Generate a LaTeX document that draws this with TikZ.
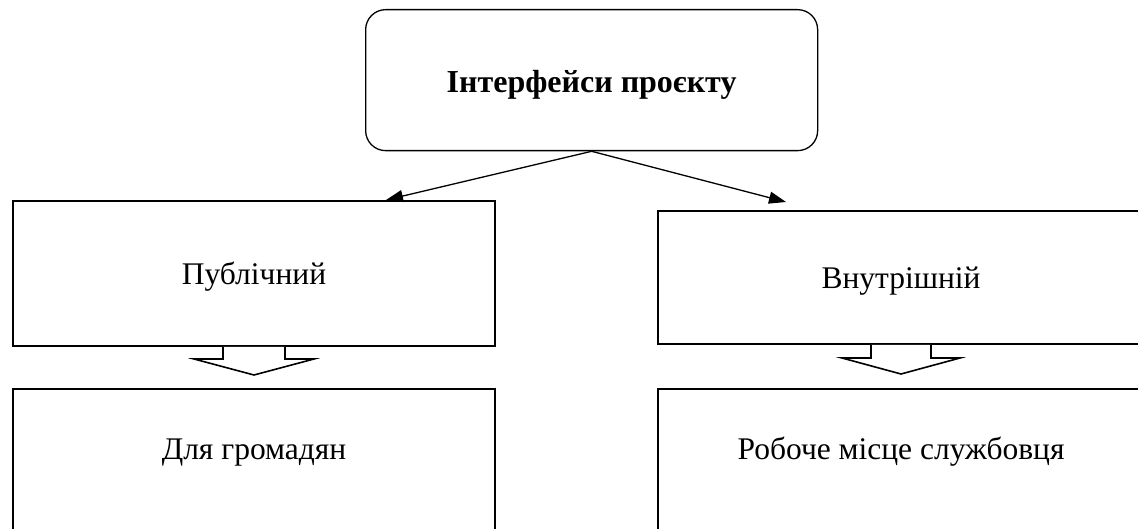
\documentclass[tikz,border=0pt]{standalone}
\usepackage{fontspec}
\setmainfont{Liberation Serif}
\usetikzlibrary{arrows.meta, calc}

\begin{document}
\begin{tikzpicture}[x=1pt, y=1pt,
	every node/.style={font=\fontsize{31.5}{36}\selectfont, inner sep=0pt, anchor=north west},
	box/.style={draw, line width=2pt},
	thinarrow/.style={line width=1.3pt, -{Triangle[length=17pt, width=12pt]}},
	blockarrow/.style={draw, fill=white, line width=1.6pt, line join=miter}]

	\useasboundingbox (0,0) rectangle (1138,528);
	\clip (0,0) rectangle (1138,528);

	\node (top) at (365,519) [draw, line width=1.3pt, rounded corners=20pt, minimum width=452pt, text height=83pt, text depth=58pt, align=center, font=\fontsize{32}{36}\selectfont\bfseries] {Інтерфейси проєкту};

	\begin{scope}
	\node (pub) at (12,328) [box, minimum width=482pt, text height=84pt, text depth=61pt] {Публічний};
	\node (cit) at (12,140) [box, minimum width=482pt, text height=70pt, text depth=100pt] {Для громадян};
	\end{scope}

	\begin{scope}
	\node (inner) at (657,318) [box, minimum width=486pt, text height=78pt, text depth=55pt] {Внутрішній};
	\node (work) at (657,140) [box, minimum width=486pt, text height=70pt, text depth=100pt] {Робоче місце службовця};
	\end{scope}

	\draw[thinarrow] (top.south) -- ($(pub.north)+(132,0)$);
	\draw[thinarrow] (top.south) -- ($(inner.north)+(-115,8)$);

	\draw[blockarrow] (pub.south) ++(-31,0) -- ++(0,-12) -- ++(-29,0) -- ++(60,-16) -- ++(60,16) -- ++(-29,0) -- ++(0,12);
	\draw[blockarrow] (inner.south) ++(-30,0) -- ++(0,-13) -- ++(-29,0) -- ++(59,-16) -- ++(59,16) -- ++(-29,0) -- ++(0,13);
\end{tikzpicture}
\end{document}
